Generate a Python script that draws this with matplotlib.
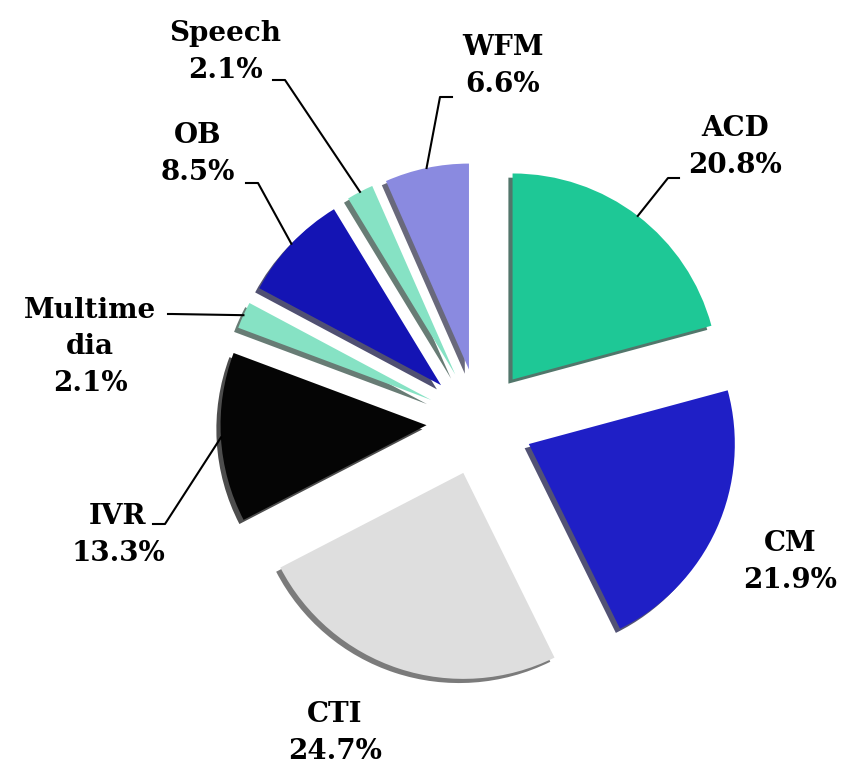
import numpy as np
import matplotlib.pyplot as plt
import matplotlib.patheffects as pe

# data
labels = ["ACD", "CM", "CTI", "IVR", "Multime\ndia", "OB", "Speech", "WFM"]
shares = [20.8, 21.9, 24.7, 13.3, 2.1, 8.5, 2.1, 6.6]
colors = ["#1ec896", "#1f1fc6", "#dedede", "#050505",
          "#86e2c4", "#1414b4", "#86e2c4", "#8a8ae0"]

# layout (pixel coords, y measured from top)
W, H = 851, 767
center_px = (480, 422)
radius_px = 206
explode_frac = 0.26
label_pos = [(735, 147), (790, 562), (335, 733), (118, 535),
             (90, 347), (198, 154), (225, 52), (503, 66)]
# leader line: elbow point then end point next to the text (None = no leader)
leaders = [((668, 178), (679, 178)), None, None, ((165, 524), (153, 524)),
           ((172, 314), (168, 314)), ((258, 183), (246, 183)),
           ((285, 80), (273, 80)), ((440, 97), (452, 97))]

fig = plt.figure(figsize=(W / 100, H / 100), dpi=100)
ax = fig.add_axes([0, 0, 1, 1])

# pie's explode is in data units, so scale by radius
wedges, _ = ax.pie(shares, colors=colors, startangle=90, counterclock=False,
                   explode=[explode_frac * radius_px] * len(shares),
                   radius=radius_px,
                   center=(center_px[0], H - center_px[1]),
                   wedgeprops=dict(linewidth=0))
for w in wedges:
    w.set_path_effects([pe.SimplePatchShadow(offset=(-3, -3), alpha=0.7),
                        pe.Normal()])

font = dict(family="DejaVu Serif", fontweight="bold", fontsize=20)
for w, lab, v, pos, ld in zip(wedges, labels, shares, label_pos, leaders):
    ax.text(pos[0], H - pos[1], f"{lab}\n{v:.1f}%", ha="center", va="center",
            linespacing=1.45, **font)
    if ld is None:
        continue
    mid = np.deg2rad((w.theta1 + w.theta2) / 2)
    arc_pt = (w.center[0] + w.r * np.cos(mid), w.center[1] + w.r * np.sin(mid))
    xs = [arc_pt[0], ld[0][0], ld[1][0]]
    ys = [arc_pt[1], H - ld[0][1], H - ld[1][1]]
    ax.plot(xs, ys, color="black", lw=1.5)

ax.set_xlim(0, W)
ax.set_ylim(0, H)
ax.axis("off")
fig.savefig("out.png", dpi=100)
